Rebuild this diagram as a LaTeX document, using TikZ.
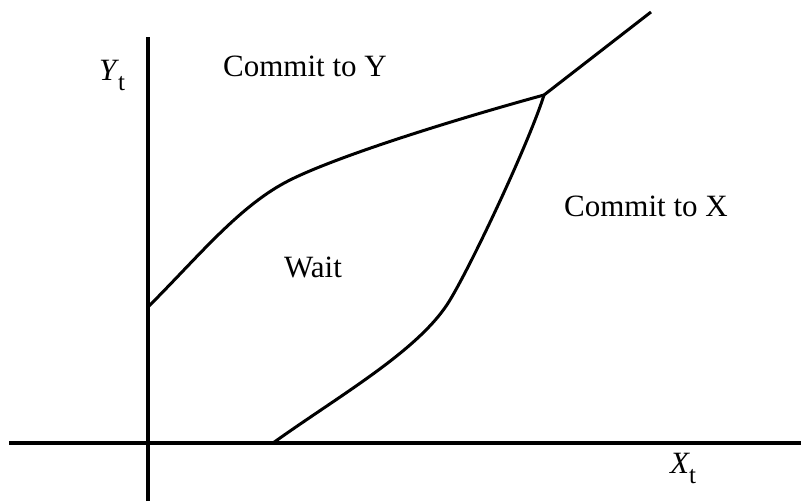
\documentclass[tikz,border=0pt]{standalone}
\usepackage{fontspec}
\setmainfont{Liberation Serif}
\newcommand{\subt}{\raisebox{-10pt}{\fontsize{25}{28}\selectfont t}}
\begin{document}
\begin{tikzpicture}[x=1pt,y=-1pt,
  axis/.style={line width=4pt},
  bound/.style={line width=3pt, line join=round},
  lbl/.style={font=\fontsize{31}{35}\selectfont},
  every node/.style={inner sep=0pt}]
\useasboundingbox (0,0) rectangle (801,501);
\coordinate (yb) at (148,501);
\coordinate (yt) at (148,37);
\coordinate (xl) at (9,443);
\coordinate (xr) at (801,443);
\draw[axis] (yb) -- (yt);
\draw[axis] (xl) -- (xr);
\coordinate (u0) at (148,307);
\coordinate (k) at (544,95);
\coordinate (e) at (651,12);
\coordinate (l0) at (273,443);
\draw[bound] (u0) .. controls (200,255) and (240,205) .. (290,180)
  .. controls (340,155) and (460,118) .. (k);
\draw[bound] (l0) .. controls (340,395) and (420,350) .. (450,300)
  .. controls (474,260) and (530,140) .. (k);
\draw[bound] (k) -- (e);
\node[lbl] (cy) at (305,66) {Commit to Y};
\node[lbl] (cx) at (646,206) {Commit to X};
\node[lbl] (w) at (313,267) {Wait};
\node[lbl,anchor=base west] (ylab) at (99,80) {\textit{Y}\kern-1pt\subt};
\node[lbl,anchor=base west] (xlab) at (670,473) {\textit{X}\kern-1pt\subt};
\end{tikzpicture}
\end{document}
